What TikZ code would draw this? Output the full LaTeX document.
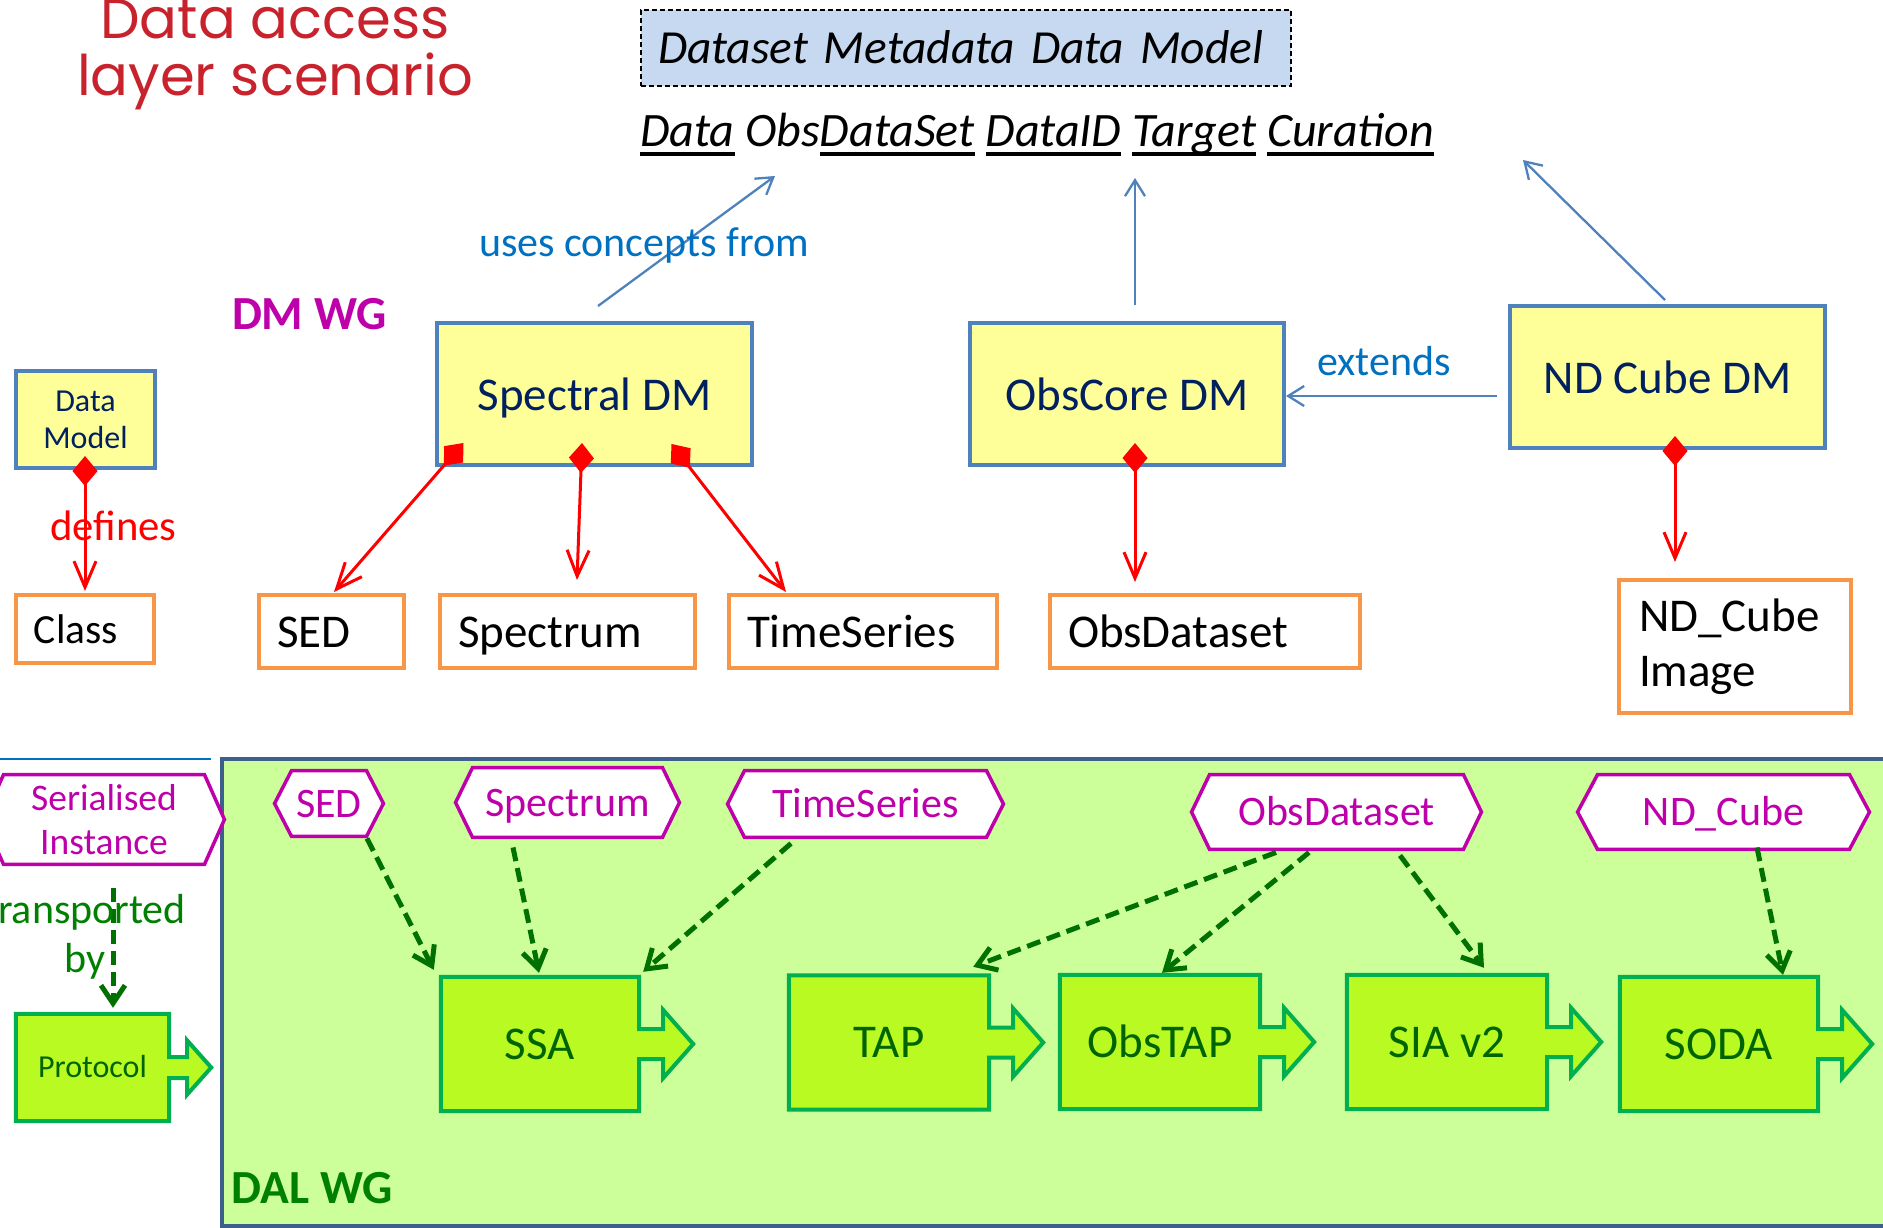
\documentclass[tikz,border=0pt]{standalone}
\usepackage{fontspec}
\setmainfont{Carlito}
\newfontfamily\titlefont{Poppins}
\newsavebox\ulbox
\newcommand\ulw[1]{\sbox\ulbox{#1}\rlap{\rule[-9pt]{\wd\ulbox}{3.5pt}}\usebox\ulbox}
\newcommand\tightspace{\spaceskip=6pt plus 2pt minus 1pt\relax}
\usetikzlibrary{arrows.meta,calc}
\definecolor{dmborder}{RGB}{79,129,189}
\definecolor{dmfill}{RGB}{255,255,153}
\definecolor{navy}{RGB}{0,32,96}
\definecolor{orangeb}{RGB}{247,150,70}
\definecolor{linkblue}{RGB}{79,129,189}
\definecolor{labelblue}{RGB}{0,112,192}
\definecolor{magentac}{RGB}{190,0,170}
\definecolor{dalfill}{RGB}{204,255,153}
\definecolor{dalborder}{RGB}{60,95,140}
\definecolor{pzfill}{RGB}{185,250,35}
\definecolor{pzborder}{RGB}{0,176,80}
\definecolor{pztext}{RGB}{0,100,0}
\definecolor{dashgreen}{RGB}{0,112,0}
\definecolor{dalgreen}{RGB}{0,128,0}
\definecolor{titlered}{RGB}{200,35,45}
\definecolor{metafill}{RGB}{198,217,241}
\pgfdeclarelayer{bg}
\pgfdeclarelayer{shp}
\pgfsetlayers{bg,shp,main}
\newcommand\fs[2]{\fontsize{#1}{#2}\selectfont}
\newcommand\hexoutline[2]{%
  \begin{pgfonlayer}{shp}
  \path[hexline] ([xshift=#2pt]#1.north west) -- ([xshift=-#2pt]#1.north east) -- (#1.east)
    -- ([xshift=-#2pt]#1.south east) -- ([xshift=#2pt]#1.south west) -- (#1.west) -- cycle;
  \end{pgfonlayer}}
\newcommand\puzzleoutline[5]{%
  \begin{pgfonlayer}{shp}
  \path[pzline] (#1.north west) -- (#1.north east) -- ([yshift=#2pt]#1.east)
    -- ([xshift=#3pt,yshift=#2pt]#1.east) -- ([xshift=#3pt,yshift=#4pt]#1.east)
    -- ([xshift=#3pt+#5pt]#1.east) -- ([xshift=#3pt,yshift=-#4pt]#1.east)
    -- ([xshift=#3pt,yshift=-#2pt]#1.east) -- ([yshift=-#2pt]#1.east)
    -- (#1.south east) -- (#1.south west) -- cycle;
  \end{pgfonlayer}}
\tikzset{
  dmbox/.style={draw=dmborder, fill=dmfill, line width=4pt, text=navy, inner sep=0pt, align=center},
  dmone/.style={dmbox, font=\fs{47}{56}, text height=32pt, text depth=0pt},
  clsbox/.style={draw=orangeb, fill=white, line width=4pt, inner xsep=18pt, inner ysep=0pt, align=left, text=black},
  hexnode/.style={inner sep=0pt, text=magentac, align=center},
  hexone/.style={hexnode, font=\fs{42}{50}, text height=27pt, text depth=0pt},
  hexline/.style={draw=magentac, fill=white, line width=3.5pt, line join=miter},
  pznode/.style={inner sep=0pt, text=pztext, font=\fs{47}{56}, text height=30pt, text depth=0pt},
  pzline/.style={draw=pzborder, fill=pzfill, line width=4pt, line join=miter},
  comp/.style={draw=red, line width=3pt, {Diamond[length=30pt,width=25pt,fill=red]}-{Straight Barb[length=26pt,width=22pt]}},
  bluelink/.style={draw=linkblue, line width=2.3pt, -{Straight Barb[length=16pt,width=20pt]}},
  dashlink/.style={draw=dashgreen, line width=5pt, dash pattern=on 14pt off 7pt, -{Straight Barb[length=18pt,width=24pt]}},
  lbl/.style={inner sep=0pt, anchor=base}
}
\begin{document}
\begin{tikzpicture}[x=1pt,y=-1pt]
\useasboundingbox (0,0) rectangle (1883,1228);
% background region
\begin{pgfonlayer}{bg}
\draw[draw=dalborder, fill=dalfill, line width=4pt] (222,759) rectangle (1897,1226);
\end{pgfonlayer}
\draw[labelblue, line width=2pt] (0,759) -- (211,759);

% title
\node[font=\titlefont\fs{56}{57}, text=titlered, align=center, anchor=north, inner sep=0pt] (title) at (275,-1) {Data access\\layer scenario};

% metadata model
\node[draw=black, dashed, dash pattern=on 5pt off 3pt, line width=2pt, fill=metafill, inner xsep=17pt, inner ysep=0pt,
  text width=616pt, align=left, minimum height=76pt, font=\itshape\fs{47.5}{56}\tightspace, text height=32pt, text depth=0pt] (meta) at (966,48) {Dataset Metadata Data Model};
\node[font=\itshape\fs{48}{56}, anchor=base west, inner sep=0pt] (attrs) at (640,147)
  {\ulw{Data} Obs\ulw{DataSet} \ulw{DataID} \ulw{Target} \ulw{Curation}};

% DM WG
\node[lbl, font=\bfseries\fs{47.5}{56}, text=magentac] (dmwg) at (309.5,329) {DM WG};

% data model boxes
\node[dmbox, minimum width=139pt, minimum height=97pt, font=\fs{32}{37}] (datamodel) at (85.5,419.5) {Data\\Model};
\node[dmone, minimum width=315pt, minimum height=142pt] (spectral) at (594.5,394) {Spectral DM};
\node[dmone, minimum width=314pt, minimum height=142pt] (obscore) at (1127,394) {ObsCore DM};
\node[dmone, minimum width=315pt, minimum height=142pt] (ndcube) at (1667.5,377) {ND Cube DM};

% class boxes
\node[clsbox, minimum height=68pt, text width=102pt, font=\fs{41.5}{50}, text height=29pt, text depth=0pt] (class) at (85,629) {Class};
\node[clsbox, minimum height=73pt, text width=109pt, font=\fs{47}{56}, text height=31pt, text depth=0pt] (sed) at (331.5,631.5) {SED};
\node[clsbox, minimum height=73pt, text width=219pt, font=\fs{47}{56}, text height=31pt, text depth=0pt] (spectrum) at (567.5,631.5) {Spectrum};
\node[clsbox, minimum height=73pt, text width=232pt, font=\fs{47}{56}, text height=31pt, text depth=0pt] (timeseries) at (863,631.5) {TimeSeries};
\node[clsbox, minimum height=73pt, text width=274pt, font=\fs{47}{56}, text height=31pt, text depth=0pt] (obsdataset) at (1205,631.5) {ObsDataset};
\node[clsbox, inner xsep=20pt, minimum height=133pt, text width=192pt, font=\fs{47}{55}] (ndimage) at (1735,646.5) {ND\_Cube\\Image};

% blue links
\coordinate (dmuse) at (775,176);
\coordinate (dmcore) at (1135,178);
\coordinate (dmcube) at (1523,160);
\draw[bluelink] ([shift={(3.5,-15)}]spectral.north) -- (dmuse);
\draw[bluelink] ([shift={(8,-16)}]obscore.north) -- (dmcore);
\draw[bluelink] ([shift={(-2.5,-4)}]ndcube.north) -- (dmcube);
\draw[bluelink] ([shift={(-11,19)}]ndcube.west) -- ([shift={(0,2)}]obscore.east);
\node[lbl, font=\fs{42}{50}, text=labelblue] (useslbl) at (644,256) {uses concepts from};
\node[lbl, font=\fs{42}{50}, text=labelblue] (extlbl) at (1384,375) {extends};

% composition links
\draw[comp] ([shift={(-0.5,-14)}]datamodel.south) -- ([shift={(0,-2)}]class.north);
\draw[comp] ([shift={(-131,-24)}]spectral.south) -- ([shift={(2.5,-1)}]sed.north);
\draw[comp] ([shift={(-12.5,-24)}]spectral.south) -- ([shift={(9.5,-13)}]spectrum.north);
\draw[comp] ([shift={(77,-23)}]spectral.south) -- ([shift={(-77,-1)}]timeseries.north);
\draw[comp] ([shift={(8,-24)}]obscore.south) -- ([shift={(-70,-11)}]obsdataset.north);
\draw[comp] ([shift={(7.5,-14)}]ndcube.south) -- ([shift={(-60,-16)}]ndimage.north);
\node[lbl, font=\fs{42.7}{50}, text=red] (defl) at (113.5,540) {defines};

% serialised instances
\node[hexnode, font=\fs{37.5}{44}, minimum width=240.5pt, minimum height=89.5pt] (serial) at (104,819.5) {Serialised\\Instance};
\hexoutline{serial}{20}
\node[hexone, minimum width=108.5pt, minimum height=65.5pt] (sedh) at (329,803.5) {SED};
\hexoutline{sedh}{17}
\node[hexone, minimum width=223.5pt, minimum height=69.5pt] (spech) at (567.5,802.5) {Spectrum};
\hexoutline{spech}{17}
\node[hexone, minimum width=275.5pt, minimum height=66.5pt] (timeh) at (865.5,804) {TimeSeries};
\hexoutline{timeh}{17}
\node[hexone, minimum width=289.5pt, minimum height=74.5pt] (obsh) at (1336.5,812) {ObsDataset};
\hexoutline{obsh}{18}
\node[hexone, minimum width=291.5pt, minimum height=74.5pt] (ndh) at (1723.5,812) {ND\_Cube};
\hexoutline{ndh}{20}

% protocols
\node[pznode, font=\fs{32}{38}, text height=20.6pt, minimum width=153pt, minimum height=107pt] (protocol) at (92.5,1067.5) {Protocol};
\puzzleoutline{protocol}{10.5}{18}{27}{24}
\node[pznode, minimum width=198pt, minimum height=134pt] (ssa) at (540,1044) {SSA};
\puzzleoutline{ssa}{15}{24}{34}{30}
\node[pznode, minimum width=200pt, minimum height=134pt] (tap) at (889,1042.5) {TAP};
\puzzleoutline{tap}{15}{24}{34}{30}
\node[pznode, minimum width=200pt, minimum height=134pt] (obstap) at (1160,1042) {ObsTAP};
\puzzleoutline{obstap}{15}{24}{34}{30}
\node[pznode, minimum width=200pt, minimum height=134pt] (siav2) at (1447,1042) {SIA v2};
\puzzleoutline{siav2}{15}{24}{34}{30}
\node[pznode, minimum width=198pt, minimum height=134pt] (soda) at (1719,1044) {SODA};
\puzzleoutline{soda}{15}{24}{34}{30}

% dashed links
\draw[dashlink] ([shift={(9,24)}]serial.south) -- ([shift={(20.5,-6)}]protocol.north);
\node[font=\fs{42}{49}, text=dalgreen, align=center, inner sep=0pt] (translbl) at (85,937) {transported\\by};
\draw[dashlink] ([shift={(38,2)}]sedh.south) -- ([shift={(-7,-7)}]ssa.north west);
\draw[dashlink] ([shift={(-54.5,10)}]spech.south) -- ([shift={(-1,-4)}]ssa.north);
\draw[dashlink] ([shift={(-74.5,6)}]timeh.south) -- ([shift={(4,-5)}]ssa.north east);
\draw[dashlink] ([shift={(-60.5,3)}]obsh.south) -- ([shift={(-16,-8.5)}]tap.north east);
\draw[dashlink] ([shift={(-27.5,3)}]obsh.south) -- ([shift={(2,-2)}]obstap.north);
\draw[dashlink] ([shift={(63.5,6)}]obsh.south) -- ([shift={(37,-7)}]siav2.north);
\draw[dashlink] ([shift={(33.5,-2)}]ndh.south) -- ([shift={(64,-2)}]soda.north);

\node[lbl, font=\bfseries\fs{47.5}{56}, text=dalgreen] (dalwg) at (312.5,1203) {DAL WG};
\end{tikzpicture}
\end{document}
